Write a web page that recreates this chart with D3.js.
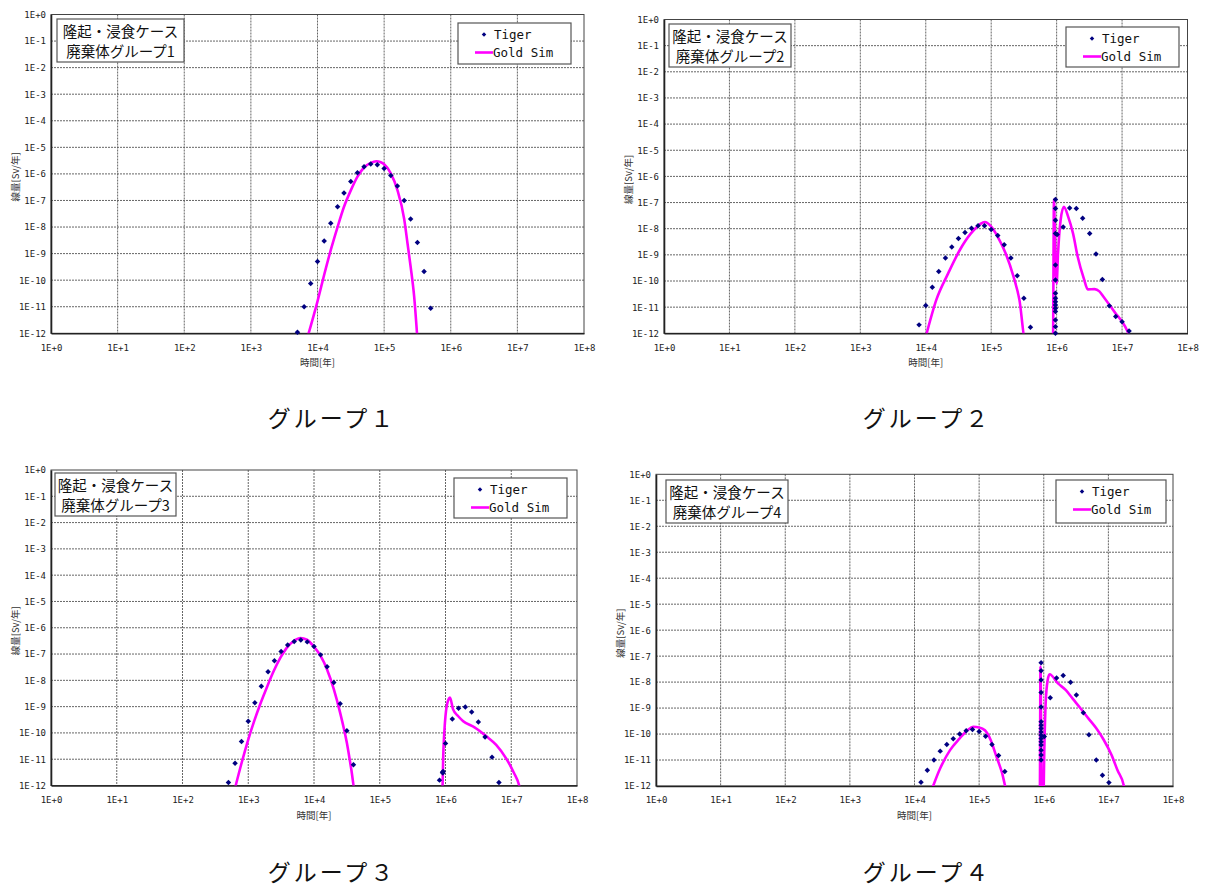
<!DOCTYPE html>
<html><head><meta charset="utf-8">
<script src="https://cdn.jsdelivr.net/npm/d3@7/dist/d3.min.js"></script>
<style>
html,body{margin:0;padding:0;background:#fff;}
svg{display:block;}
</style></head>
<body>
<svg id="chart" width="1207" height="888"></svg>
<script>
// ---------- tick labels & texts ----------
const xTickValues = [1e0,1e1,1e2,1e3,1e4,1e5,1e6,1e7,1e8];
const xTickLabels = ["1E+0","1E+1","1E+2","1E+3","1E+4","1E+5","1E+6","1E+7","1E+8"];
const yTickValues = [1e0,1e-1,1e-2,1e-3,1e-4,1e-5,1e-6,1e-7,1e-8,1e-9,1e-10,1e-11,1e-12];
const yTickLabels = ["1E+0","1E-1","1E-2","1E-3","1E-4","1E-5","1E-6","1E-7","1E-8","1E-9","1E-10","1E-11","1E-12"];
const xTitle = "時間[年]";
const yTitle = "線量[Sv/年]";
const seriesNames = ["Tiger","Gold Sim"];
const noteLine1 = "隆起・浸食ケース";
const noteLines2 = ["廃棄体グループ1","廃棄体グループ2","廃棄体グループ3","廃棄体グループ4"];
const captions = ["グループ１","グループ２","グループ３","グループ４"];

// ---------- data: [time (years), dose (Sv/year)] ----------
const tiger1 = [[5.0e3,1.1e-12],[6.3e3,1.0e-11],[7.9e3,7.5e-11],[1.0e4,5.0e-10],[1.26e4,3.0e-9],[1.58e4,1.4e-8],
 [2.0e4,5.8e-8],[2.5e4,1.9e-7],[3.16e4,5.2e-7],[3.98e4,1.1e-6],[5.0e4,1.85e-6],[6.3e4,2.35e-6],[7.9e4,2.2e-6],
 [1.0e5,1.6e-6],[1.26e5,8.7e-7],[1.58e5,3.5e-7],[2.0e5,1.0e-7],[2.5e5,2.0e-8],[3.16e5,2.6e-9],[3.98e5,2.1e-10],[5.0e5,8.7e-12]];
const gold1 = [[6.8e3,5e-13],[1.0e4,1.6e-11],[1.26e4,1.6e-10],[1.58e4,1.35e-9],[2.0e4,1.0e-8],[2.5e4,5.8e-8],
 [3.16e4,2.4e-7],[3.98e4,7.9e-7],[5.0e4,1.74e-6],[6.3e4,2.6e-6],[7.6e4,3.0e-6],[8.9e4,2.75e-6],[1.0e5,2.3e-6],
 [1.26e5,1.05e-6],[1.58e5,2.5e-7],[2.0e5,2.0e-8],[2.24e5,2.5e-9],[2.5e5,3.2e-10],[2.82e5,2.5e-11],[3.16e5,6e-13]];

const tiger2 = [[7.9e3,2.1e-12],[1.0e4,1.15e-11],[1.26e4,5.8e-11],[1.58e4,2.3e-10],[2.0e4,7.6e-10],[2.5e4,2.0e-9],
 [3.16e4,4.2e-9],[3.98e4,7.2e-9],[5.0e4,1.05e-8],[6.3e4,1.3e-8],[7.9e4,1.3e-8],[1.0e5,9.3e-9],[1.26e5,5.5e-9],
 [1.58e5,2.45e-9],[2.0e5,7.6e-10],[2.5e5,1.6e-10],[3.16e5,2.2e-11],[3.98e5,1.7e-12],
 [9.6e5,1.3e-7],[9.6e5,5.9e-8],[9.6e5,2.1e-8],[9.6e5,6.6e-9],[9.6e5,4.1e-10],[9.6e5,1.1e-10],[9.6e5,3.4e-11],
 [9.6e5,2.2e-11],[9.6e5,1.6e-11],[9.6e5,1.2e-11],[9.6e5,9.1e-12],[9.6e5,6.8e-12],[9.6e5,3.2e-12],[9.6e5,1.8e-12],[9.6e5,1.0e-12],
 [1.02e6,6.0e-9],[1.26e6,1.17e-8],[1.58e6,6.2e-8],[2.0e6,5.9e-8],[2.5e6,2.5e-8],[3.2e6,6.6e-9],[4.0e6,1.07e-9],
 [5.0e6,1.15e-10],[6.4e6,1.12e-11],[8.0e6,4.4e-12],[1.0e7,2.75e-12],[1.28e7,1.23e-12]];
const gold2 = [[9.8e3,6e-13],[1.45e4,1.9e-11],[2.2e4,1.95e-10],[3.3e4,1.5e-9],[4.9e4,6.6e-9],[7.4e4,1.7e-8],[8.0e4,1.8e-8],
 [1.0e5,1.2e-8],[1.26e5,4.9e-9],[1.66e5,1.15e-9],[2.19e5,1.5e-10],[2.7e5,1.9e-11],[3.3e5,6e-13],
 [8.8e5,5e-13],[9.1e5,1.3e-7],[9.5e5,2e-9],[1.0e6,8e-11],[1.05e6,1.1e-9],[1.15e6,2.1e-8],[1.29e6,6.9e-8],
 [1.5e6,2.9e-8],[1.78e6,6.6e-9],[2.1e6,8.5e-10],[2.6e6,1.26e-10],[3.0e6,4.8e-11],[3.8e6,4.9e-11],[4.5e6,4.0e-11],
 [5.2e6,2.5e-11],[6.3e6,1.3e-11],[7.9e6,5.9e-12],[1.0e7,2.8e-12],[1.2e7,1.26e-12],[1.32e7,7e-13]];

const tiger3 = [[5.0e2,1.3e-12],[6.3e2,7e-12],[7.9e2,4.7e-11],[1.0e3,2.8e-10],[1.26e3,1.4e-9],[1.58e3,5.9e-9],
 [2.0e3,2.1e-8],[2.5e3,5.6e-8],[3.16e3,1.26e-7],[3.98e3,2.2e-7],[5.0e3,3.0e-7],[6.3e3,3.4e-7],[7.9e3,2.9e-7],
 [1.0e4,1.95e-7],[1.26e4,9.3e-8],[1.58e4,3.3e-8],[2.0e4,8.3e-9],[2.5e4,1.3e-9],[3.16e4,1.2e-10],[3.98e4,6.2e-12],
 [8.1e5,1.6e-12],[9.0e5,3.2e-12],[9.1e5,3.0e-12],[9.2e5,3.4e-12],[1.0e6,4.0e-11],[1.27e6,3.4e-10],[1.58e6,8.7e-10],
 [2.0e6,9.6e-10],[2.5e6,6.2e-10],[3.16e6,2.6e-10],[4.0e6,7e-11],[5.1e6,1.2e-11],[6.5e6,1.3e-12]];
const gold3 = [[6.3e2,8e-13],[7.9e2,7e-12],[1.0e3,5.6e-11],[1.23e3,2.8e-10],[1.55e3,1.4e-9],[1.95e3,6e-9],[2.45e3,2.3e-8],
 [3.1e3,7.4e-8],[3.9e3,1.8e-7],[5.0e3,3.2e-7],[6.2e3,4.1e-7],[7.8e3,3.5e-7],[9.8e3,2.0e-7],[1.26e4,8.5e-8],
 [1.58e4,2.6e-8],[2.0e4,4.6e-9],[2.5e4,5.8e-10],[3.16e4,4.2e-11],[3.7e4,4e-12],[4.2e4,6e-13],
 [8.9e5,5e-13],[9.3e5,2.3e-11],[9.8e5,2.4e-10],[1.07e6,1.4e-9],[1.17e6,2.2e-9],[1.3e6,8e-10],[1.55e6,4.4e-10],
 [1.86e6,2.8e-10],[2.8e6,1.6e-10],[4.2e6,7.4e-11],[5.9e6,3.5e-11],[8.3e6,1.1e-11],[1.1e7,3e-12],[1.32e7,1e-12],[1.4e7,5e-13]];

const tiger4 = [[1.26e4,1.4e-12],[1.58e4,4e-12],[2.0e4,1.0e-11],[2.5e4,2.2e-11],[3.16e4,4.0e-11],[3.98e4,6.6e-11],
 [5.0e4,1.0e-10],[6.3e4,1.35e-10],[7.9e4,1.5e-10],[1.0e5,1.26e-10],[1.26e5,8.3e-11],[1.58e5,4e-11],[2.0e5,1.5e-11],[2.5e5,3.6e-12],
 [9.1e5,5.6e-8],[9.1e5,2.75e-8],[9.1e5,1.2e-8],[9.1e5,4e-9],[9.1e5,1.1e-9],[9.1e5,3e-10],[9.1e5,2.2e-10],[9.1e5,1.65e-10],
 [9.1e5,1.2e-10],[9.1e5,9e-11],[9.1e5,6.8e-11],[9.1e5,5e-11],[9.1e5,3.8e-11],[9.1e5,2.4e-11],[9.1e5,1.55e-11],[9.1e5,1e-11],
 [1.02e6,8e-11],[1.26e6,2.5e-9],[1.58e6,1.44e-8],[2.0e6,1.8e-8],[2.6e6,9.8e-9],[3.2e6,3.2e-9],[4.1e6,6.6e-10],
 [5.0e6,9.4e-11],[6.5e6,1.0e-11],[8.1e6,2.6e-12],[1.02e7,1.35e-12]];
const gold4 = [[1.8e4,6e-13],[2.5e4,4.8e-12],[3.55e4,2.4e-11],[5.0e4,6.8e-11],[6.6e4,1.4e-10],[8.1e4,1.9e-10],[1.0e5,1.8e-10],
 [1.23e5,1.4e-10],[1.51e5,5.9e-11],[1.82e5,1.55e-11],[2.24e5,3.5e-12],[2.75e5,6e-13],
 [8.7e5,5e-13],[8.9e5,4e-8],[9.3e5,5e-13],[9.9e5,5e-13],[1.02e6,2.5e-11],[1.07e6,1.5e-9],[1.15e6,1.2e-8],[1.23e6,2.0e-8],
 [1.66e6,8.9e-9],[2.2e6,4.9e-9],[2.8e6,2.3e-9],[3.7e6,9.8e-10],[4.9e6,4e-10],[6.5e6,1.66e-10],[8.5e6,5.9e-11],
 [1.12e7,1.55e-11],[1.38e7,4.1e-12],[1.74e7,1e-12],[1.8e7,5e-13]];

const tigerSeries = [tiger1, tiger2, tiger3, tiger4];
const goldSeries = [gold1, gold2, gold3, gold4];

// ---------- layout ----------
const panels = [
  {l:51,  r:584,   t:14.5, b:333.3, note:{x:57,y:19,w:127,h:43},  leg:{x:458,y:23,w:113,h:41}, cap:{x:330,y:427}},
  {l:664, r:1187.5,t:19.5, b:333.3, note:{x:669,y:24,w:122,h:43}, leg:{x:1066,y:27,w:113,h:40}, cap:{x:925,y:427}},
  {l:51,  r:577,   t:470,  b:785.5, note:{x:55,y:473,w:121,h:43}, leg:{x:454,y:478,w:113,h:40}, cap:{x:330,y:881}},
  {l:656, r:1173,  t:474.3,b:786,   note:{x:666,y:480,w:122,h:43},leg:{x:1056,y:480,w:110,h:43}, cap:{x:925,y:881}}
];

const MONO = "'DejaVu Sans Mono', 'Liberation Mono', monospace";
const JP = "'Noto Sans CJK JP', 'Noto Sans', sans-serif";
const svg = d3.select("#chart");
svg.append("rect").attr("width",1207).attr("height",888).attr("fill","#fff");

panels.forEach((p, i) => {
  const g = svg.append("g");
  const x = d3.scaleLog().domain([1e0, 1e8]).range([p.l, p.r]);
  const y = d3.scaleLog().domain([1e-12, 1e0]).range([p.b, p.t]);

  g.append("rect").attr("x",p.l).attr("y",p.t).attr("width",p.r-p.l).attr("height",p.b-p.t).attr("fill","#fff");

  // grid
  g.append("g").selectAll("line").data(xTickValues.slice(1,-1)).join("line")
    .attr("x1",d=>x(d)).attr("x2",d=>x(d)).attr("y1",p.t).attr("y2",p.b)
    .attr("stroke","#555").attr("stroke-width",0.9).attr("stroke-dasharray","2,1");
  g.append("g").selectAll("line").data(yTickValues.slice(1,-1)).join("line")
    .attr("y1",d=>y(d)).attr("y2",d=>y(d)).attr("x1",p.l).attr("x2",p.r)
    .attr("stroke","#555").attr("stroke-width",0.9).attr("stroke-dasharray","2,1");

  // frame
  g.append("rect").attr("x",p.l).attr("y",p.t).attr("width",p.r-p.l).attr("height",p.b-p.t)
    .attr("fill","none").attr("stroke","#444").attr("stroke-width",1);

  // axes
  const ax = g.append("g").attr("transform",`translate(0,${p.b})`)
    .call(d3.axisBottom(x).tickValues(xTickValues).tickFormat((d,k)=>xTickLabels[k]).tickSize(0).tickPadding(11));
  ax.select(".domain").attr("stroke","#222").attr("stroke-width",1.6);
  ax.selectAll("text").attr("font-family",MONO).attr("font-size",9).attr("fill","#222");
  const ay = g.append("g").attr("transform",`translate(${p.l},0)`)
    .call(d3.axisLeft(y).tickValues(yTickValues).tickFormat((d,k)=>yTickLabels[k]).tickSize(0).tickPadding(5));
  ay.select(".domain").attr("stroke","#222").attr("stroke-width",1.6);
  ay.selectAll("text").attr("font-family",MONO).attr("font-size",9).attr("fill","#222");

  // titles
  g.append("text").attr("x",(p.l+p.r)/2).attr("y",p.b+33).attr("text-anchor","middle")
    .attr("font-family",JP).attr("font-size",9.5).attr("fill","#333").text(xTitle);
  g.append("text").attr("transform",`translate(${p.l-36},${(p.t+p.b)/2+3}) rotate(-90)`)
    .attr("text-anchor","middle").attr("dominant-baseline","central")
    .attr("font-family",JP).attr("font-size",9.5).attr("fill","#333").text(yTitle);

  // Gold Sim line (clipped)
  const cid = "clip"+i;
  svg.append("clipPath").attr("id",cid).append("rect")
    .attr("x",p.l).attr("y",p.t).attr("width",p.r-p.l).attr("height",p.b-p.t);
  const line = d3.line().x(d=>x(d[0])).y(d=>y(d[1])).curve(d3.curveMonotoneX);
  g.append("path").datum(goldSeries[i]).attr("clip-path",`url(#${cid})`)
    .attr("d",line).attr("fill","none").attr("stroke","#ff00ff").attr("stroke-width",2.6)
    .attr("stroke-linejoin","round");

  // Tiger points (square rotated 45° = rhombus)
  const sym = d3.symbol().type(d3.symbolSquare).size(15);
  g.append("g").selectAll("path").data(tigerSeries[i]).join("path")
    .attr("transform",d=>`translate(${x(d[0])},${y(d[1])}) rotate(45)`).attr("d",sym).attr("fill","#000080");

  // note box
  const n = p.note;
  g.append("rect").attr("x",n.x).attr("y",n.y).attr("width",n.w).attr("height",n.h)
    .attr("fill","#fff").attr("stroke","#555").attr("stroke-width",1.2);
  g.append("text").attr("x",n.x+n.w/2).attr("y",n.y+18).attr("text-anchor","middle")
    .attr("font-family",JP).attr("font-size",14.5).attr("fill","#111").text(noteLine1);
  g.append("text").attr("x",n.x+n.w/2).attr("y",n.y+38).attr("text-anchor","middle")
    .attr("font-family",JP).attr("font-size",14.5).attr("fill","#111").text(noteLines2[i]);

  // legend
  const L = p.leg;
  g.append("rect").attr("x",L.x).attr("y",L.y).attr("width",L.w).attr("height",L.h)
    .attr("fill","#fff").attr("stroke","#555").attr("stroke-width",1.2);
  g.append("path").attr("transform",`translate(${L.x+26},${L.y+11.5}) rotate(45)`)
    .attr("d",d3.symbol().type(d3.symbolSquare).size(10)).attr("fill","#000080");
  g.append("text").attr("x",L.x+36).attr("y",L.y+16).attr("font-family",MONO).attr("font-size",12.5)
    .attr("fill","#111").text(seriesNames[0]);
  g.append("line").attr("x1",L.x+17).attr("x2",L.x+35).attr("y1",L.y+29.5).attr("y2",L.y+29.5)
    .attr("stroke","#ff00ff").attr("stroke-width",2.6);
  g.append("text").attr("x",L.x+35).attr("y",L.y+34).attr("font-family",MONO).attr("font-size",12.5)
    .attr("fill","#111").text(seriesNames[1]);

  // caption
  svg.append("text").attr("x",p.cap.x+2).attr("y",p.cap.y).attr("text-anchor","middle")
    .attr("font-family",JP).attr("font-size",23).attr("fill","#111")
    .style("letter-spacing","3px").text(captions[i]);
});
</script>
</body></html>
